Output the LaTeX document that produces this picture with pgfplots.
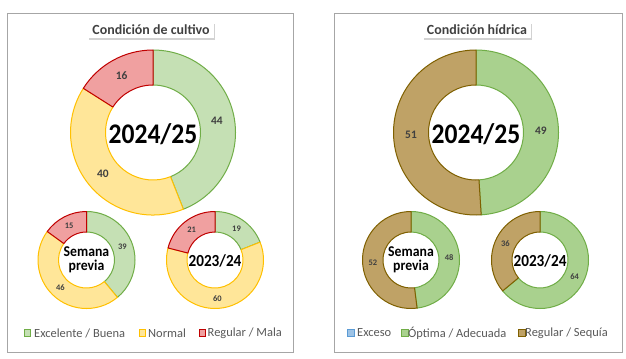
\documentclass[border=0pt]{standalone}
\usepackage{pgfplots}
\pgfplotsset{compat=1.18}
\usepackage{fontspec}
\setmainfont{Carlito}
\usetikzlibrary{shadows}
\definecolor{gfill}{HTML}{C5E0B4}
\definecolor{gline}{HTML}{70AD47}
\definecolor{yfill}{HTML}{FFE699}
\definecolor{yline}{HTML}{FFC000}
\definecolor{rfill}{HTML}{F0A0A0}
\definecolor{rline}{HTML}{C00000}
\definecolor{g2fill}{HTML}{A9D18E}
\definecolor{bfill}{HTML}{BFA266}
\definecolor{bline}{HTML}{7F6000}
\definecolor{xfill}{HTML}{9DC3E6}
\definecolor{xline}{HTML}{5B9BD5}
\definecolor{lblgray}{HTML}{404040}
\definecolor{leggray}{HTML}{595959}
\definecolor{framegray}{HTML}{A6A6A6}
% #1 cx, #2 cy, #3 r outer, #4 r inner, #5 value/fill/line list, #6 label font
\newcommand\donut[6]{%
 \gdef\cum{0}%
 \foreach \v/\fc/\dc in {#5}{%
   \pgfmathsetmacro\aone{90-3.6*\cum}%
   \pgfmathsetmacro\atwo{90-3.6*(\cum+\v)}%
   \pgfmathsetmacro\amid{(\aone+\atwo)/2}%
   \pgfmathsetmacro\rdiff{#3-#4}%
   \pgfmathsetmacro\rmid{(#3+#4)/2}%
   \filldraw[fill=\fc,draw=\dc,line width=1bp,line join=round] (axis cs:#1,#2) ++(\aone:#3bp) arc[start angle=\aone,end angle=\atwo,radius=#3bp] -- ++(\atwo+180:\rdiff bp) arc[start angle=\atwo,end angle=\aone,radius=#4bp] -- cycle;
   \path (axis cs:#1,#2) ++(\amid:\rmid bp) node[font=#6,text=lblgray]{\v};
   \pgfmathsetmacro\newcum{\cum+\v}%
   \xdef\cum{\newcum}%
 }%
}
\newcommand\legsq[3]{\filldraw[fill=#2,draw=#3,line width=1bp] (axis cs:#1,329.5) rectangle (axis cs:#1+6.5,336);}
\begin{document}
\begin{tikzpicture}
\begin{axis}[x=1bp,y=1bp,xmin=0,xmax=626,ymin=0,ymax=358,y dir=reverse,hide axis,clip=false]
\pgfplotsextra{
 \fill[white] (axis cs:0,0) rectangle (axis cs:626,358);
 \draw[framegray,line width=1bp] (axis cs:7.5,13.5) rectangle (axis cs:293,352);
 \draw[framegray,line width=1bp] (axis cs:334.5,13.5) rectangle (axis cs:622,352);
 % titles
 \node[fill=white,drop shadow={opacity=0.35,shadow xshift=1bp,shadow yshift=-2bp},inner xsep=4bp,minimum height=16bp,font=\bfseries\fontsize{14}{15}\selectfont,text=lblgray] at (axis cs:151,30) {Condición de cultivo};
 \node[fill=white,drop shadow={opacity=0.35,shadow xshift=1bp,shadow yshift=-2bp},inner xsep=4bp,minimum height=16bp,font=\bfseries\fontsize{14}{15}\selectfont,text=lblgray] at (axis cs:477,30) {Condición hídrica};
 % left panel
 \donut{153}{132.5}{82.5}{47.5}{44/gfill/gline,40/yfill/yline,16/rfill/rline}{\bfseries\fontsize{11.5}{12}\selectfont}
 \donut{86.5}{260}{48.5}{28}{39/gfill/gline,46/yfill/yline,15/rfill/rline}{\bfseries\fontsize{8.5}{9}\selectfont}
 \donut{215}{260}{48.5}{28}{19/gfill/gline,60/yfill/yline,21/rfill/rline}{\bfseries\fontsize{8.5}{9}\selectfont}
 % right panel
 \donut{476}{132.5}{82.5}{47.5}{49/g2fill/gline,51/bfill/bline}{\bfseries\fontsize{11.5}{12}\selectfont}
 \donut{411}{260}{48.5}{28}{48/g2fill/gline,52/bfill/bline}{\bfseries\fontsize{8.5}{9}\selectfont}
 \donut{540}{260}{48.5}{28}{64/g2fill/gline,36/bfill/bline}{\bfseries\fontsize{8.5}{9}\selectfont}
 % center texts
 \foreach \cx in {153,476}{\node[xscale=0.9,font=\bfseries\fontsize{28.5}{30}\selectfont] at (axis cs:\cx,134) {2024/25};}
 \foreach \cx in {86.5,411}{\node[xscale=0.92,align=center,font=\bfseries\fontsize{15}{14.5}\selectfont] at (axis cs:\cx,260) {Semana\\previa};}
 \foreach \cx in {215,540}{\node[xscale=0.9,font=\bfseries\fontsize{17}{18}\selectfont] at (axis cs:\cx,261) {2023/24};}
 % legends
 \legsq{24}{gfill}{gline}
 \node[anchor=west,inner sep=0pt,text=leggray,font=\fontsize{12.5}{13}\selectfont] at (axis cs:34,333) {Excelente / Buena};
 \legsq{139}{yfill}{yline}
 \node[anchor=west,inner sep=0pt,text=leggray,font=\fontsize{12.5}{13}\selectfont] at (axis cs:148,333) {Normal};
 \legsq{199}{rfill}{rline}
 \node[anchor=west,inner sep=0pt,text=leggray,font=\fontsize{12.5}{13}\selectfont] at (axis cs:207.5,333) {Regular / Mala};
 \legsq{347.5}{xfill}{xline}
 \node[anchor=west,inner sep=0pt,text=leggray,font=\fontsize{12.5}{13}\selectfont] at (axis cs:357,333) {Exceso};
 \legsq{401.5}{g2fill}{gline}
 \node[anchor=west,inner sep=0pt,text=leggray,font=\fontsize{12.5}{13}\selectfont] at (axis cs:408,333) {Óptima / Adecuada};
 \legsq{518.5}{bfill}{bline}
 \node[anchor=west,inner sep=0pt,text=leggray,font=\fontsize{12.5}{13}\selectfont] at (axis cs:525,333) {Regular / Sequía};
}
\end{axis}
\end{tikzpicture}
\end{document}
